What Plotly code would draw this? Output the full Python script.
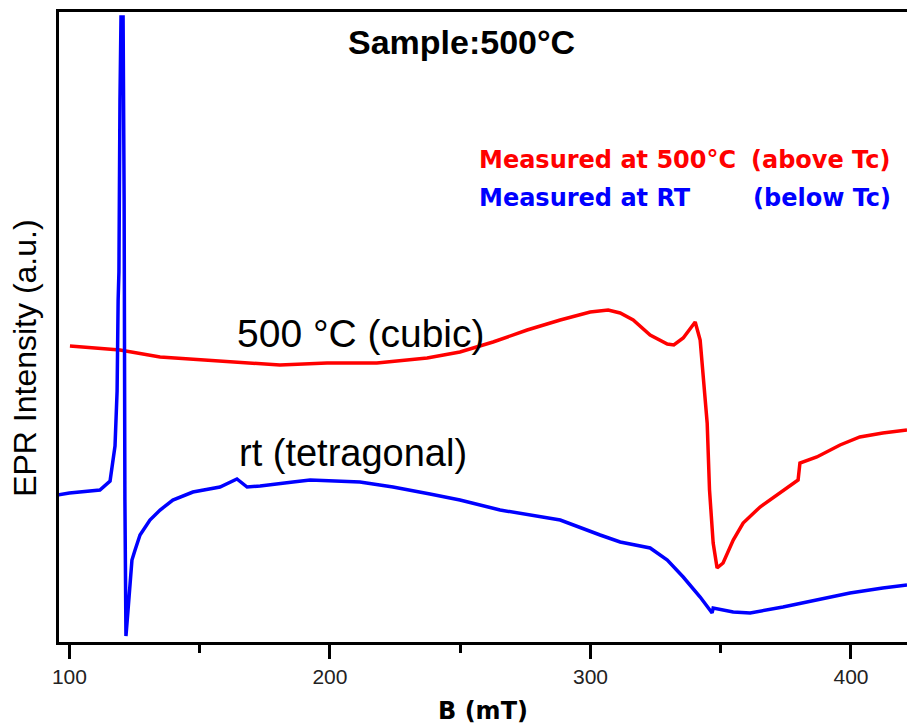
import plotly.graph_objects as go

# Red: measured at 500 °C (cubic)
red_B = [100.2, 119.4, 134.8, 154.0, 173.2, 180.8, 198.9, 218.0, 237.3, 249.9,
         262.6, 275.7, 288.4, 299.9, 306.8, 311.4, 316.4, 322.9, 329.5, 332.0,
         335.6, 338.3, 340.2, 342.1, 343.3, 344.8, 345.7, 347.1, 348.6, 350.9,
         354.8, 358.6, 365.1, 372.8, 379.7, 380.4, 386.9, 395.8, 403.4, 412.2, 421.5]
red_I = [297, 293, 286, 283, 280, 278, 280, 280, 285, 291,
         301, 313, 323, 331, 333, 330, 323, 308, 299, 298,
         305, 315, 321, 303, 266, 220, 153, 100, 75, 80,
         103, 120, 136, 150, 163, 180, 186, 198, 206, 210, 213]

# Blue: measured at RT (tetragonal)
blue_B = [95.6, 100.0, 111.7, 115.6, 117.5, 118.3, 118.7, 119.0, 119.4, 119.8,
          120.6, 121.0, 121.3, 121.7, 122.5, 123.3, 124.0, 125.2, 127.1, 130.9,
          134.8, 139.7, 147.4, 157.8, 162.8, 164.3, 168.2, 173.2, 185.8, 192.4,
          211.5, 224.2, 238.4, 249.9, 265.3, 288.4, 303.7, 311.4, 322.9, 329.5,
          335.6, 342.1, 346.7, 347.1, 354.8, 361.3, 373.9, 386.9, 399.6, 412.2, 421.5]
blue_I = [148, 150, 153, 162, 197, 252, 343, 371, 543, 626,
          626, 443, 143, 7, 33, 63, 83, 93, 108, 123,
          133, 143, 151, 156, 162, 164, 156, 157, 161, 163,
          161, 156, 149, 143, 133, 123, 108, 101, 95, 83,
          66, 46, 30, 35, 31, 30, 36, 43, 50, 55, 58]

x_ticks = [100, 200, 300, 400]
x_minor = [150, 250, 350]

fig = go.Figure()
fig.add_trace(go.Scatter(x=red_B, y=red_I, mode="lines",
                         line=dict(color="#ff0000", width=3.5), showlegend=False))
fig.add_trace(go.Scatter(x=blue_B, y=blue_I, mode="lines",
                         line=dict(color="#0000ff", width=3.5), showlegend=False))

sans = "Liberation Sans, Arial, sans-serif"
wide = "DejaVu Sans, Verdana, sans-serif"

fig.update_layout(
    width=907, height=725,
    margin=dict(l=59, r=0, t=12, b=83),
    paper_bgcolor="white", plot_bgcolor="white",
    font=dict(family=sans, color="black"),
    xaxis=dict(range=[96.0, 421.5], showgrid=False, zeroline=False,
               showline=True, linecolor="black", linewidth=3, mirror=True,
               tickmode="array", tickvals=x_ticks, ticktext=[str(v) for v in x_ticks],
               ticks="outside", ticklen=14, tickwidth=3, tickcolor="black",
               tickfont=dict(size=21, family=sans, color="#222222"),
               minor=dict(tickmode="array", tickvals=x_minor, ticks="outside",
                          ticklen=8, tickwidth=3, tickcolor="black")),
    yaxis=dict(range=[1, 631], showgrid=False, zeroline=False,
               showline=True, linecolor="black", linewidth=3, mirror=False,
               showticklabels=False, ticks=""),
)

ann = [
    dict(text="<b>Sample:500°C</b>", x=0.4752, y=0.952, xanchor="center", yanchor="middle",
         font=dict(size=34, family=sans, color="black")),
    dict(text="<b>Measured at 500°C</b>", x=0.4929, y=0.765, xanchor="left", yanchor="middle",
         font=dict(size=24, family=wide, color="#ff0000")),
    dict(text="<b>(above Tc)</b>", x=0.9835, y=0.765, xanchor="right", yanchor="middle",
         font=dict(size=24, family=wide, color="#ff0000")),
    dict(text="<b>Measured at RT</b>", x=0.4929, y=0.705, xanchor="left", yanchor="middle",
         font=dict(size=24, family=wide, color="#0000ff")),
    dict(text="<b>(below Tc)</b>", x=0.9835, y=0.705, xanchor="right", yanchor="middle",
         font=dict(size=24, family=wide, color="#0000ff")),
    dict(text="500 °C (cubic)", x=0.2075, y=0.490, xanchor="left", yanchor="middle",
         font=dict(size=39, family=sans, color="black")),
    dict(text="rt (tetragonal)", x=0.210, y=0.300, xanchor="left", yanchor="middle",
         font=dict(size=38, family=sans, color="black")),
    dict(text="EPR Intensity (a.u.)", x=-0.0401, y=0.451, xanchor="center", yanchor="middle",
         textangle=-90, font=dict(size=32, family=sans, color="black")),
    dict(text="<b>B (mT)</b>", x=0.5, y=-0.1095, xanchor="center", yanchor="middle",
         font=dict(size=24, family=wide, color="black")),
]
for a in ann:
    a.update(xref="paper", yref="paper", showarrow=False)
    fig.add_annotation(**a)

fig.write_html(
    "out.html",
    config={"displayModeBar": False},
    post_script="document.body.style.margin='0';document.body.style.overflow='hidden';",
)
